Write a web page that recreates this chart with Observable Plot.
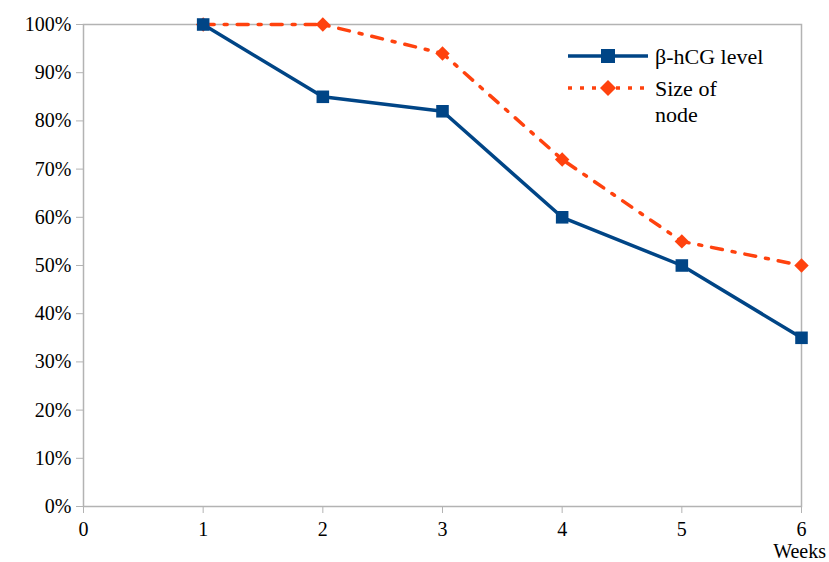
<!DOCTYPE html>
<html><head><meta charset="utf-8">
<script src="https://cdn.jsdelivr.net/npm/d3@7"></script>
<script src="https://cdn.jsdelivr.net/npm/@observablehq/plot@0.6"></script>
<style>
body{margin:0;background:#fff;font-family:"Liberation Serif";}
#chart{position:relative;width:829px;height:562px;}
</style></head>
<body><div id="chart"></div>
<script>
const weeks = [1, 2, 3, 4, 5, 6];
const hcgLevel = [100, 85, 82, 60, 50, 35];
const nodeSize = [100, 100, 94, 72, 55, 50];
const xTicks = [0, 1, 2, 3, 4, 5, 6];
const yTicks = [0, 10, 20, 30, 40, 50, 60, 70, 80, 90, 100];

const hcg = weeks.map((w, i) => ({week: w, value: hcgLevel[i]}));
const node = weeks.map((w, i) => ({week: w, value: nodeSize[i]}));

const blue = "#004586", orange = "#ff420e", grey = "#b3b3b3";

const plot = Plot.plot({
  width: 829, height: 562,
  marginLeft: 83, marginRight: 28, marginTop: 24, marginBottom: 56,
  x: {domain: [0, 6], label: null},
  y: {domain: [0, 100], label: null},
  marks: [
    Plot.frame({stroke: grey, strokeWidth: 1.5}),
    Plot.axisX({ticks: xTicks, tickSize: 7, stroke: grey, tickPadding: 8, tickFormat: d => String(d), fill: "#000", label: null, fontFamily: "Liberation Serif"}),
    Plot.axisY({ticks: yTicks, tickSize: 7, stroke: grey, tickPadding: 5, tickFormat: d => d + "%", fill: "#000", label: null, fontFamily: "Liberation Serif"}),
    Plot.line(node, {x: "week", y: "value", stroke: orange, strokeWidth: 3.5, strokeDasharray: "11,10,3,10"}),
    Plot.dot(node, {x: "week", y: "value", symbol: "diamond2", r: 6.5, fill: orange, stroke: "none"}),
    Plot.line(hcg, {x: "week", y: "value", stroke: blue, strokeWidth: 3.5}),
    Plot.dot(hcg, {x: "week", y: "value", symbol: "square2", r: 8, fill: blue, stroke: "none"})
  ]
});
document.getElementById("chart").appendChild(plot);

const svg = d3.select(plot);
svg.style("background", "#fff").attr("font-family", "Liberation Serif");
svg.append("text").attr("x", 826).attr("y", 558).attr("text-anchor", "end")
  .attr("fill", "#000").text("Weeks");

// legend
const lg = svg.append("g").attr("text-anchor", "start");
lg.append("line").attr("x1", 568).attr("x2", 648).attr("y1", 56).attr("y2", 56)
  .attr("stroke", blue).attr("stroke-width", 3.5);
lg.append("rect").attr("x", 601).attr("y", 49).attr("width", 14).attr("height", 14).attr("fill", blue);
lg.append("line").attr("x1", 568).attr("x2", 648).attr("y1", 88).attr("y2", 88)
  .attr("stroke", orange).attr("stroke-width", 3.5).attr("stroke-dasharray", "4,8");
lg.append("path").attr("d", "M608,80L616,88L608,96L600,88Z").attr("fill", orange);
const lt = (y, t) => lg.append("text").attr("x", 655).attr("y", y).attr("text-anchor", "start")
  .attr("class", "legend-text").attr("fill", "#000").text(t);
lt(64, "β-hCG level");
lt(96, "Size of");
lt(122, "node");

svg.selectAll("g").attr("font-family", "Liberation Serif");
svg.selectAll("text").each(function() {
  const legend = this.getAttribute("class") === "legend-text";
  const size = legend ? 22 : 20;
  this.setAttribute("font-family", "Liberation Serif");
  this.setAttribute("font-size", size);
  this.setAttribute("style", 'font-family: "Liberation Serif"; font-size: ' + size + 'px');
});
</script></body></html>
